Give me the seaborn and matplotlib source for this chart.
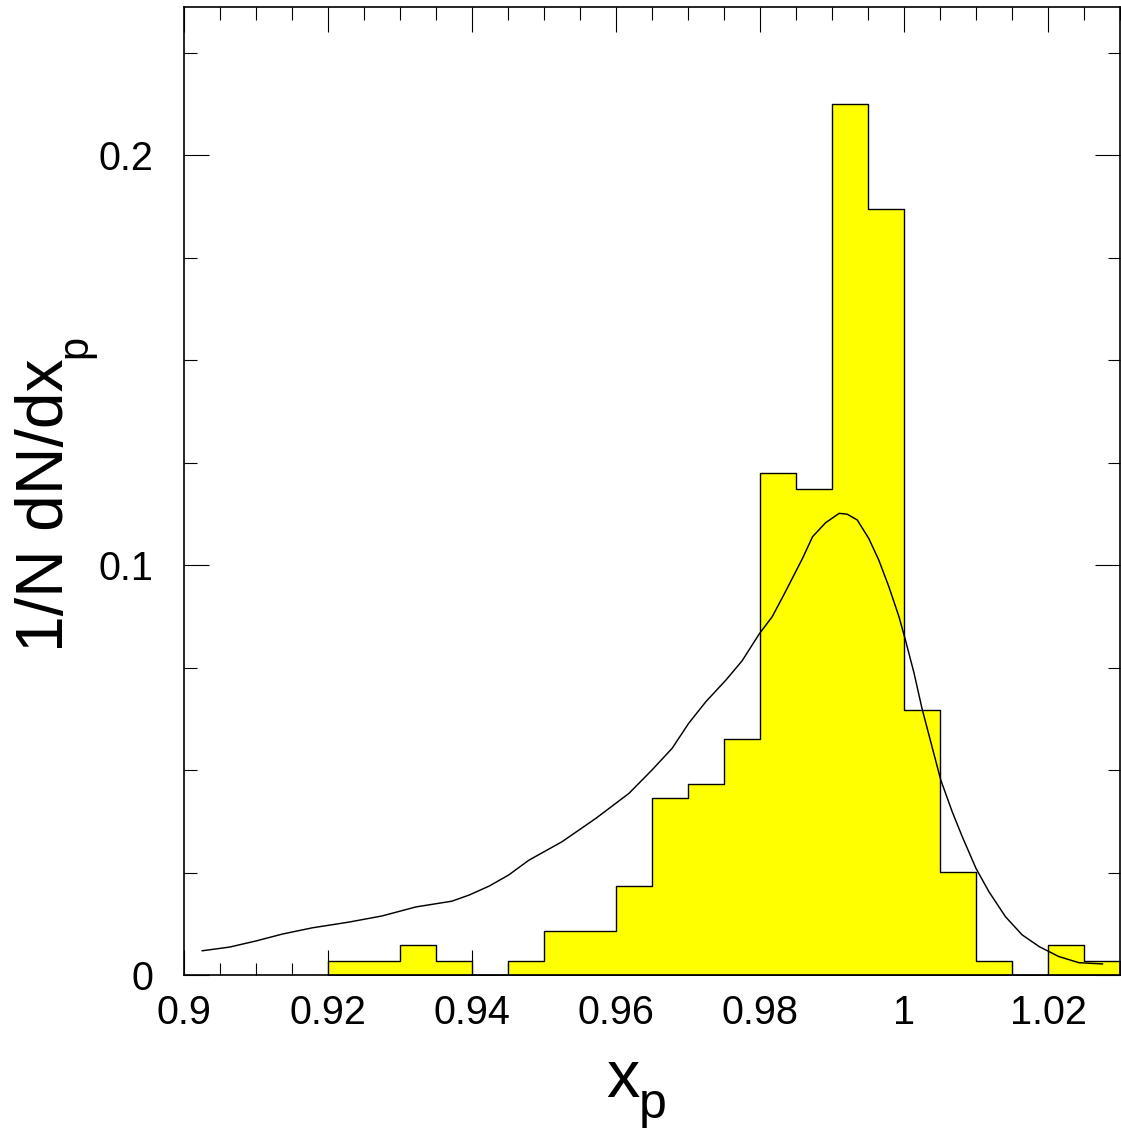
import numpy as np
import matplotlib
matplotlib.use("Agg")
import matplotlib.pyplot as plt
import seaborn as sns
from matplotlib.ticker import MultipleLocator, FixedLocator, FixedFormatter

sns.set_style("ticks")
plt.rcParams["font.family"] = ["Liberation Sans", "DejaVu Sans"]
plt.rcParams["text.color"] = "black"

# histogram: bin centres (width 0.005) and 1/N dN/dx_p per bin
bin_centres = [0.9225, 0.9275, 0.9325, 0.9375, 0.9425, 0.9475, 0.9525, 0.9575,
               0.9625, 0.9675, 0.9725, 0.9775, 0.9825, 0.9875, 0.9925, 0.9975,
               1.0025, 1.0075, 1.0125, 1.0175, 1.0225, 1.0275]
bin_heights = [0.0034, 0.0034, 0.0073, 0.0034, 0.0, 0.0034, 0.0107, 0.0107,
               0.0217, 0.0431, 0.0467, 0.0575, 0.1224, 0.1185, 0.2124, 0.1868,
               0.0646, 0.0251, 0.0034, 0.0, 0.0073, 0.0034]

# smooth curve
curve_x = [0.9025, 0.9063, 0.9100, 0.9137, 0.9178, 0.9229, 0.9275, 0.9322,
           0.9372, 0.9396, 0.9424, 0.9451, 0.9479, 0.9525, 0.9572, 0.9618,
           0.9650, 0.9678, 0.9701, 0.9725, 0.9753, 0.9775, 0.9799, 0.9817,
           0.9833, 0.9845, 0.9859, 0.9873, 0.9891, 0.9910, 0.9921, 0.9935,
           0.9951, 0.9965, 0.9979, 0.9993, 1.0002, 1.0014, 1.0025, 1.0051,
           1.0067, 1.0081, 1.0100, 1.0118, 1.0141, 1.0164, 1.0188, 1.0215,
           1.0243, 1.0276]
curve_y = [0.0059, 0.0068, 0.0083, 0.0100, 0.0115, 0.0129, 0.0144, 0.0166,
           0.0180, 0.0195, 0.0217, 0.0244, 0.0280, 0.0325, 0.0382, 0.0443,
           0.0500, 0.0553, 0.0614, 0.0667, 0.0720, 0.0766, 0.0832, 0.0874,
           0.0927, 0.0968, 0.1016, 0.1069, 0.1103, 0.1126, 0.1124, 0.1110,
           0.1065, 0.1012, 0.0947, 0.0874, 0.0817, 0.0736, 0.0650, 0.0476,
           0.0398, 0.0337, 0.0260, 0.0203, 0.0142, 0.0098, 0.0069, 0.0045,
           0.0030, 0.0027]

xtick_vals = [0.9, 0.92, 0.94, 0.96, 0.98, 1.0, 1.02]
xtick_labels = ["0.9", "0.92", "0.94", "0.96", "0.98", "1", "1.02"]
ytick_vals = [0.0, 0.1, 0.2]
ytick_labels = ["0", "0.1", "0.2"]

W, H = 1121, 1131
fig = plt.figure(figsize=(W / 100, H / 100), dpi=100)
ax = fig.add_axes([184 / W, 156 / H, 936 / W, 968 / H])

sns.histplot(x=bin_centres, weights=bin_heights, binwidth=0.005,
             binrange=(0.92, 1.03), stat="count", element="step", fill=True,
             color="#ffff00", edgecolor="black", linewidth=1.0, alpha=1.0, ax=ax)
sns.lineplot(x=curve_x, y=curve_y, color="black", linewidth=1.05,
             sort=False, estimator=None, ax=ax)

ax.set_xlim(0.9, 1.03)
ax.set_ylim(0, 0.2361)
ax.set_xlabel("")
ax.set_ylabel("")

ax.xaxis.set_major_locator(FixedLocator(xtick_vals))
ax.xaxis.set_major_formatter(FixedFormatter(xtick_labels))
ax.xaxis.set_minor_locator(MultipleLocator(0.005))
ax.yaxis.set_major_locator(FixedLocator(ytick_vals))
ax.yaxis.set_major_formatter(FixedFormatter(ytick_labels))
ax.yaxis.set_minor_locator(MultipleLocator(0.025))

ax.tick_params(which="both", direction="in", top=True, right=True,
               width=0.8, color="black", labelsize=28.5, labelcolor="black")
ax.tick_params(which="major", length=18)
ax.tick_params(which="minor", length=9)
ax.tick_params(axis="x", pad=14)
ax.tick_params(axis="y", pad=22)
for s in ax.spines.values():
    s.set_linewidth(1.2)
    s.set_color("black")
    s.set_zorder(5)

# axis titles with a deep subscript, as in the original
fig.text(606 / W, 1 - 1097 / H, "x", fontsize=48, ha="left", va="baseline", color="black")
fig.text(639 / W, 1 - 1118 / H, "p", fontsize=36, ha="left", va="baseline", color="black")
fig.text(63 / W, 1 - 652 / H, "1/N dN/dx", fontsize=47.5, rotation=90,
         rotation_mode="anchor", ha="left", va="baseline", color="black")
fig.text(86 / W, 1 - 358 / H, "p", fontsize=30, rotation=90,
         rotation_mode="anchor", ha="left", va="baseline", color="black")

fig.savefig("out.png", dpi=100)
